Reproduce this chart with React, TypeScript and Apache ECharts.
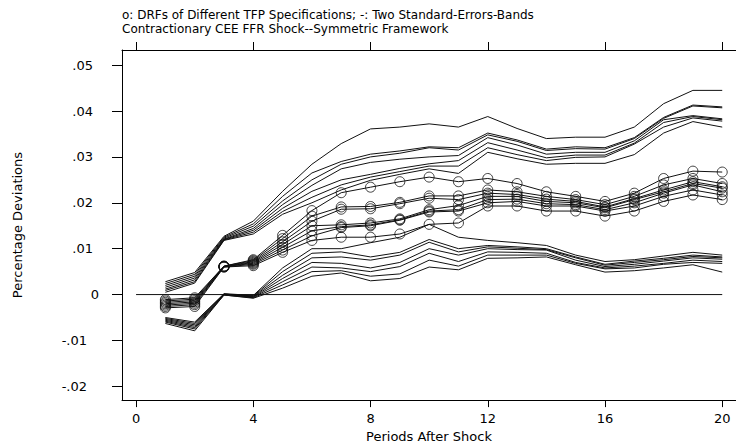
import React, { useEffect, useRef } from "react";
import * as echarts from "echarts";

const periods = [1, 2, 3, 4, 5, 6, 7, 8, 9, 10, 11, 12, 13, 14, 15, 16, 17, 18, 19, 20];

const xTicks = [0, 4, 8, 12, 16, 20];
const yTicks = [-0.02, -0.01, 0, 0.01, 0.02, 0.03, 0.04, 0.05];

const titleLine1 = "o: DRFs of Different TFP Specifications; -: Two Standard-Errors-Bands";
const titleLine2 = "Contractionary CEE FFR Shock--Symmetric Framework";
const xTitle = "Periods After Shock";
const yTitle = "Percentage Deviations";

// DRFs (circles)
const drfA = [-0.0011, -0.0007, 0.0062, 0.0076, 0.0129, 0.0183, 0.0222, 0.0234, 0.0246, 0.0256, 0.0246, 0.0253, 0.0242, 0.0224, 0.0214, 0.0203, 0.0221, 0.0253, 0.0269, 0.0267];
const drfB = [-0.0014, -0.0010, 0.0062, 0.0074, 0.0122, 0.0171, 0.0191, 0.0192, 0.0201, 0.0215, 0.0215, 0.0228, 0.0224, 0.0214, 0.0207, 0.0196, 0.0214, 0.0239, 0.0253, 0.0242];
const drfC = [-0.0017, -0.0013, 0.0061, 0.0072, 0.0115, 0.0160, 0.0186, 0.0187, 0.0198, 0.0210, 0.0207, 0.0221, 0.0218, 0.0208, 0.0203, 0.0191, 0.0209, 0.0228, 0.0246, 0.0235];
const drfD = [-0.0020, -0.0016, 0.0061, 0.0070, 0.0109, 0.0150, 0.0152, 0.0156, 0.0165, 0.0185, 0.0194, 0.0214, 0.0214, 0.0203, 0.0200, 0.0189, 0.0207, 0.0224, 0.0242, 0.0232];
const drfE = [-0.0023, -0.0019, 0.0061, 0.0068, 0.0103, 0.0139, 0.0148, 0.0152, 0.0163, 0.0182, 0.0185, 0.0207, 0.0208, 0.0198, 0.0196, 0.0185, 0.0200, 0.0221, 0.0239, 0.0224];
const drfF = [-0.0026, -0.0022, 0.0060, 0.0066, 0.0097, 0.0128, 0.0146, 0.0150, 0.0162, 0.0180, 0.0182, 0.0200, 0.0203, 0.0193, 0.0193, 0.0182, 0.0193, 0.0214, 0.0228, 0.0217];
const drfG = [-0.0029, -0.0026, 0.0060, 0.0063, 0.0092, 0.0118, 0.0125, 0.0125, 0.0132, 0.0153, 0.0156, 0.0193, 0.0193, 0.0182, 0.0182, 0.0171, 0.0182, 0.0203, 0.0217, 0.0207];

// Upper two-standard-error bands
const upA = [0.0028, 0.0048, 0.0127, 0.0160, 0.0225, 0.0284, 0.0329, 0.0361, 0.0365, 0.0372, 0.0365, 0.0388, 0.0362, 0.0340, 0.0343, 0.0343, 0.0365, 0.0416, 0.0445, 0.0445];
const upB = [0.0024, 0.0044, 0.0125, 0.0154, 0.0214, 0.0265, 0.0290, 0.0306, 0.0313, 0.0322, 0.0320, 0.0352, 0.0337, 0.0317, 0.0322, 0.0320, 0.0342, 0.0386, 0.0413, 0.0409];
const upC = [0.0020, 0.0040, 0.0123, 0.0149, 0.0204, 0.0250, 0.0284, 0.0300, 0.0308, 0.0320, 0.0315, 0.0348, 0.0334, 0.0314, 0.0318, 0.0317, 0.0340, 0.0384, 0.0411, 0.0407];
const upD = [0.0016, 0.0036, 0.0121, 0.0144, 0.0196, 0.0238, 0.0274, 0.0288, 0.0295, 0.0300, 0.0303, 0.0342, 0.0326, 0.0306, 0.0310, 0.0310, 0.0335, 0.0381, 0.0390, 0.0383];
const upE = [0.0012, 0.0032, 0.0120, 0.0140, 0.0188, 0.0225, 0.0250, 0.0262, 0.0275, 0.0285, 0.0292, 0.0331, 0.0315, 0.0298, 0.0304, 0.0304, 0.0330, 0.0375, 0.0388, 0.0381];
const upF = [0.0009, 0.0028, 0.0119, 0.0136, 0.0181, 0.0212, 0.0239, 0.0256, 0.0268, 0.0280, 0.0280, 0.0320, 0.0305, 0.0292, 0.0299, 0.0300, 0.0328, 0.0365, 0.0385, 0.0378];
const upG = [0.0005, 0.0025, 0.0118, 0.0132, 0.0175, 0.0200, 0.0228, 0.0249, 0.0262, 0.0274, 0.0264, 0.0310, 0.0296, 0.0284, 0.0286, 0.0286, 0.0305, 0.0352, 0.0377, 0.0365];

// Lower two-standard-error bands
const loA = [-0.0050, -0.0060, 0.0002, -0.0002, 0.0058, 0.0100, 0.0100, 0.0113, 0.0125, 0.0153, 0.0125, 0.0118, 0.0113, 0.0107, 0.0086, 0.0072, 0.0076, 0.0084, 0.0092, 0.0086];
const loB = [-0.0052, -0.0063, 0.0001, -0.0003, 0.0050, 0.0090, 0.0093, 0.0082, 0.0092, 0.0120, 0.0100, 0.0107, 0.0104, 0.0100, 0.0082, 0.0066, 0.0073, 0.0079, 0.0086, 0.0082];
const loC = [-0.0054, -0.0066, 0.0001, -0.0004, 0.0042, 0.0080, 0.0082, 0.0075, 0.0086, 0.0114, 0.0093, 0.0104, 0.0101, 0.0098, 0.0080, 0.0064, 0.0070, 0.0076, 0.0083, 0.0080];
const loD = [-0.0056, -0.0069, 0.0000, -0.0005, 0.0035, 0.0070, 0.0068, 0.0058, 0.0070, 0.0100, 0.0086, 0.0100, 0.0098, 0.0097, 0.0075, 0.0061, 0.0066, 0.0073, 0.0080, 0.0077];
const loE = [-0.0058, -0.0072, 0.0000, -0.0006, 0.0028, 0.0060, 0.0058, 0.0050, 0.0061, 0.0090, 0.0072, 0.0093, 0.0092, 0.0090, 0.0070, 0.0058, 0.0062, 0.0068, 0.0075, 0.0072];
const loF = [-0.0060, -0.0075, -0.0001, -0.0007, 0.0021, 0.0050, 0.0052, 0.0040, 0.0045, 0.0075, 0.0062, 0.0086, 0.0086, 0.0086, 0.0068, 0.0056, 0.0058, 0.0066, 0.0070, 0.0068];
const loG = [-0.0063, -0.0079, -0.0001, -0.0008, 0.0014, 0.0040, 0.0047, 0.0030, 0.0035, 0.0060, 0.0054, 0.0079, 0.0080, 0.0082, 0.0065, 0.0049, 0.0052, 0.0058, 0.0065, 0.0049];

const drfSeries = [drfA, drfB, drfC, drfD, drfE, drfF, drfG];
const bandSeries = [upA, upB, upC, upD, upE, upF, upG, loA, loB, loC, loD, loE, loF, loG];

const FONT = "DejaVu Sans";

function fmtY(v: number): string {
  if (Math.abs(v) < 1e-9) return "{z|0}";
  const s = "." + String(Math.round(Math.abs(v) * 100)).padStart(2, "0");
  return v < 0 ? "{n|-" + s + "}" : "{p|" + s + "}";
}

export default function App() {
  const ref = useRef<HTMLDivElement>(null);
  useEffect(() => {
    if (!ref.current) return;
    const chart = echarts.init(ref.current, null, { renderer: "svg" });
    const lineColor = "#111";
    const series: any[] = [];
    series.push({
      type: "line",
      data: [[0, 0], [20, 0]],
      symbol: "none",
      lineStyle: { color: lineColor, width: 1 },
      silent: true,
      z: 1,
    });
    bandSeries.forEach((arr) => {
      series.push({
        type: "line",
        data: periods.map((p, i) => [p, arr[i]]),
        symbol: "none",
        lineStyle: { color: lineColor, width: 1 },
        silent: true,
        z: 2,
      });
    });
    drfSeries.forEach((arr) => {
      series.push({
        type: "line",
        data: periods.map((p, i) => [p, arr[i]]),
        symbol: "circle",
        symbolSize: 10,
        showSymbol: true,
        itemStyle: { color: "rgba(0,0,0,0)", borderColor: lineColor, borderWidth: 0.8 },
        lineStyle: { color: lineColor, width: 1 },
        silent: true,
        z: 3,
      });
    });

    const option: any = {
      animation: false,
      backgroundColor: "#fff",
      textStyle: { fontFamily: FONT },
      title: {
        text: titleLine1 + "\n" + titleLine2,
        left: 122,
        top: 8,
        padding: 0,
        textStyle: { fontFamily: FONT, fontSize: 12, fontWeight: "normal", color: "#000", lineHeight: 14 },
      },
      grid: { left: 122, right: 0, top: 50, bottom: 40, containLabel: false },
      xAxis: [
        {
          type: "value",
          position: "bottom",
          min: -0.48,
          max: 20.47,
          name: xTitle,
          nameLocation: "middle",
          nameGap: 24,
          nameTextStyle: { fontFamily: FONT, fontSize: 13, color: "#000" },
          axisLine: { show: true, onZero: false, lineStyle: { color: "#000", width: 1 } },
          axisTick: { show: true, customValues: xTicks, length: 7, lineStyle: { color: "#000", width: 1 } },
          axisLabel: { customValues: xTicks, fontFamily: FONT, fontSize: 13, color: "#000", margin: 12 },
          splitLine: { show: false },
        },
        {
          type: "value",
          position: "top",
          min: -0.48,
          max: 20.47,
          axisLine: { show: true, onZero: false, lineStyle: { color: "#000", width: 1 } },
          axisTick: { show: true, customValues: xTicks, length: 8, lineStyle: { color: "#000", width: 1 } },
          axisLabel: { show: false },
          splitLine: { show: false },
        },
      ],
      yAxis: {
        type: "value",
        min: -0.023,
        max: 0.0533,
        name: yTitle,
        nameLocation: "middle",
        nameGap: 98,
        nameRotate: 90,
        nameTextStyle: { fontFamily: FONT, fontSize: 13, color: "#000" },
        axisLine: { show: true, onZero: false, lineStyle: { color: "#000", width: 1 } },
        axisTick: { show: true, customValues: yTicks, length: 10, lineStyle: { color: "#000", width: 1 } },
        axisLabel: {
          customValues: yTicks,
          formatter: (v: number) => fmtY(v),
          margin: 23,
          align: "right",
          rich: {
            z: { fontFamily: FONT, fontSize: 13, color: "#000" },
            p: { fontFamily: FONT, fontSize: 13, color: "#000", padding: [0, 6, 0, 0] },
            n: { fontFamily: FONT, fontSize: 13, color: "#000", padding: [0, 12, 0, 0] },
          },
        },
        splitLine: { show: false },
      },
      series,
    };
    chart.setOption(option);
    return () => chart.dispose();
  }, []);
  return (
    <div
      ref={ref}
      style={{ position: "fixed", left: 0, top: 0, width: 736, height: 448, background: "#fff" }}
    />
  );
}
